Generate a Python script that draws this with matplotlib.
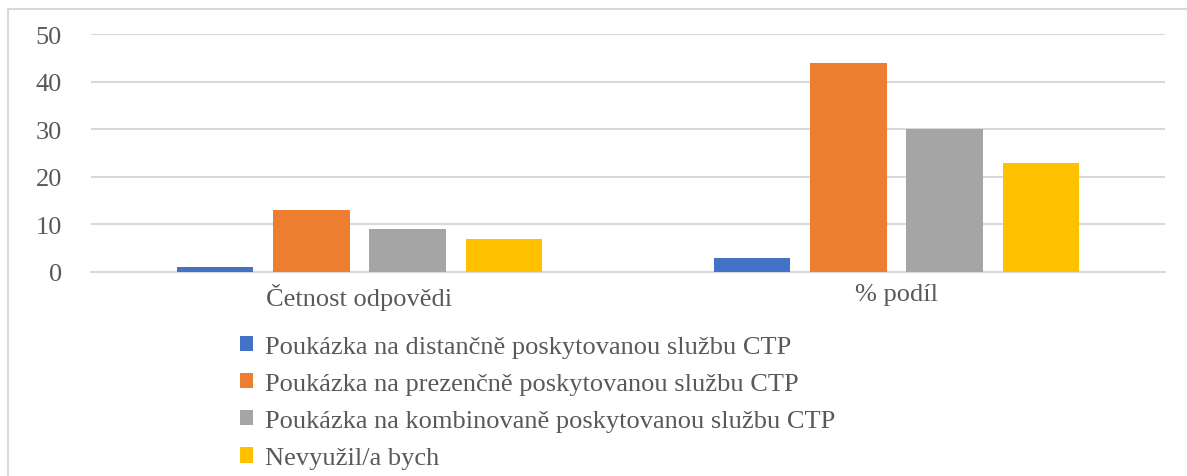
import matplotlib
matplotlib.use('Agg')
import matplotlib.pyplot as plt
from matplotlib.patches import Rectangle
import numpy as np

categories = ['Četnost odpovědi', '% podíl']
series_names = ['Poukázka na distančně poskytovanou službu CTP',
                'Poukázka na prezenčně poskytovanou službu CTP',
                'Poukázka na kombinovaně poskytovanou službu CTP',
                'Nevyužil/a bych']
distancne = [1, 3]
prezencne = [13, 44]
kombinovane = [9, 30]
nevyuzil = [7, 23]
yticks = [0, 10, 20, 30, 40, 50]

colors = ['#4472C4', '#ED7D31', '#A5A5A5', '#FFC000']
text_col = '#595959'

plt.rcParams['font.family'] = ['Liberation Serif', 'DejaVu Serif']

fig = plt.figure(figsize=(11.87, 4.77), dpi=100)
ax = fig.add_axes([0.0767, 0.4277, 0.9048, 0.4989])

x = np.arange(len(categories))
pitch = 0.1796
width = 0.1426
all_series = [distancne, prezencne, kombinovane, nevyuzil]
for i, vals in enumerate(all_series):
    ax.bar(x + (i - 1.5) * pitch, vals, width, color=colors[i],
           label=series_names[i], zorder=3)

ax.set_xlim(-0.5, 1.5)
ax.set_ylim(0, 50)
ax.set_yticks(yticks)
ax.set_xticks(x)
ax.set_xticklabels(categories)
ax.yaxis.grid(True, color='#D9D9D9', linewidth=1.5, zorder=0)
ax.tick_params(axis='both', length=0, labelsize=19, colors=text_col)
ax.tick_params(axis='y', pad=21)
ax.tick_params(axis='x', pad=8)
for s in ['top', 'right', 'left']:
    ax.spines[s].set_visible(False)
ax.spines['bottom'].set_color('#D9D9D9')
ax.spines['bottom'].set_linewidth(1.5)

leg = fig.legend(loc='upper left', bbox_to_anchor=(0.202, 0.293),
                 frameon=False, fontsize=19, handlelength=0.5,
                 handleheight=0.5, handletextpad=0.45, labelspacing=0.57,
                 borderaxespad=0, borderpad=0)
for t in leg.get_texts():
    t.set_color(text_col)

# light outer chart border
fig.patches.append(Rectangle((8 / 1187, -0.05), 1.1, 1 - 10 / 477 + 0.05,
                             transform=fig.transFigure, fill=False,
                             edgecolor='#D9D9D9', linewidth=1.5))

fig.savefig('out.png', dpi=100)
